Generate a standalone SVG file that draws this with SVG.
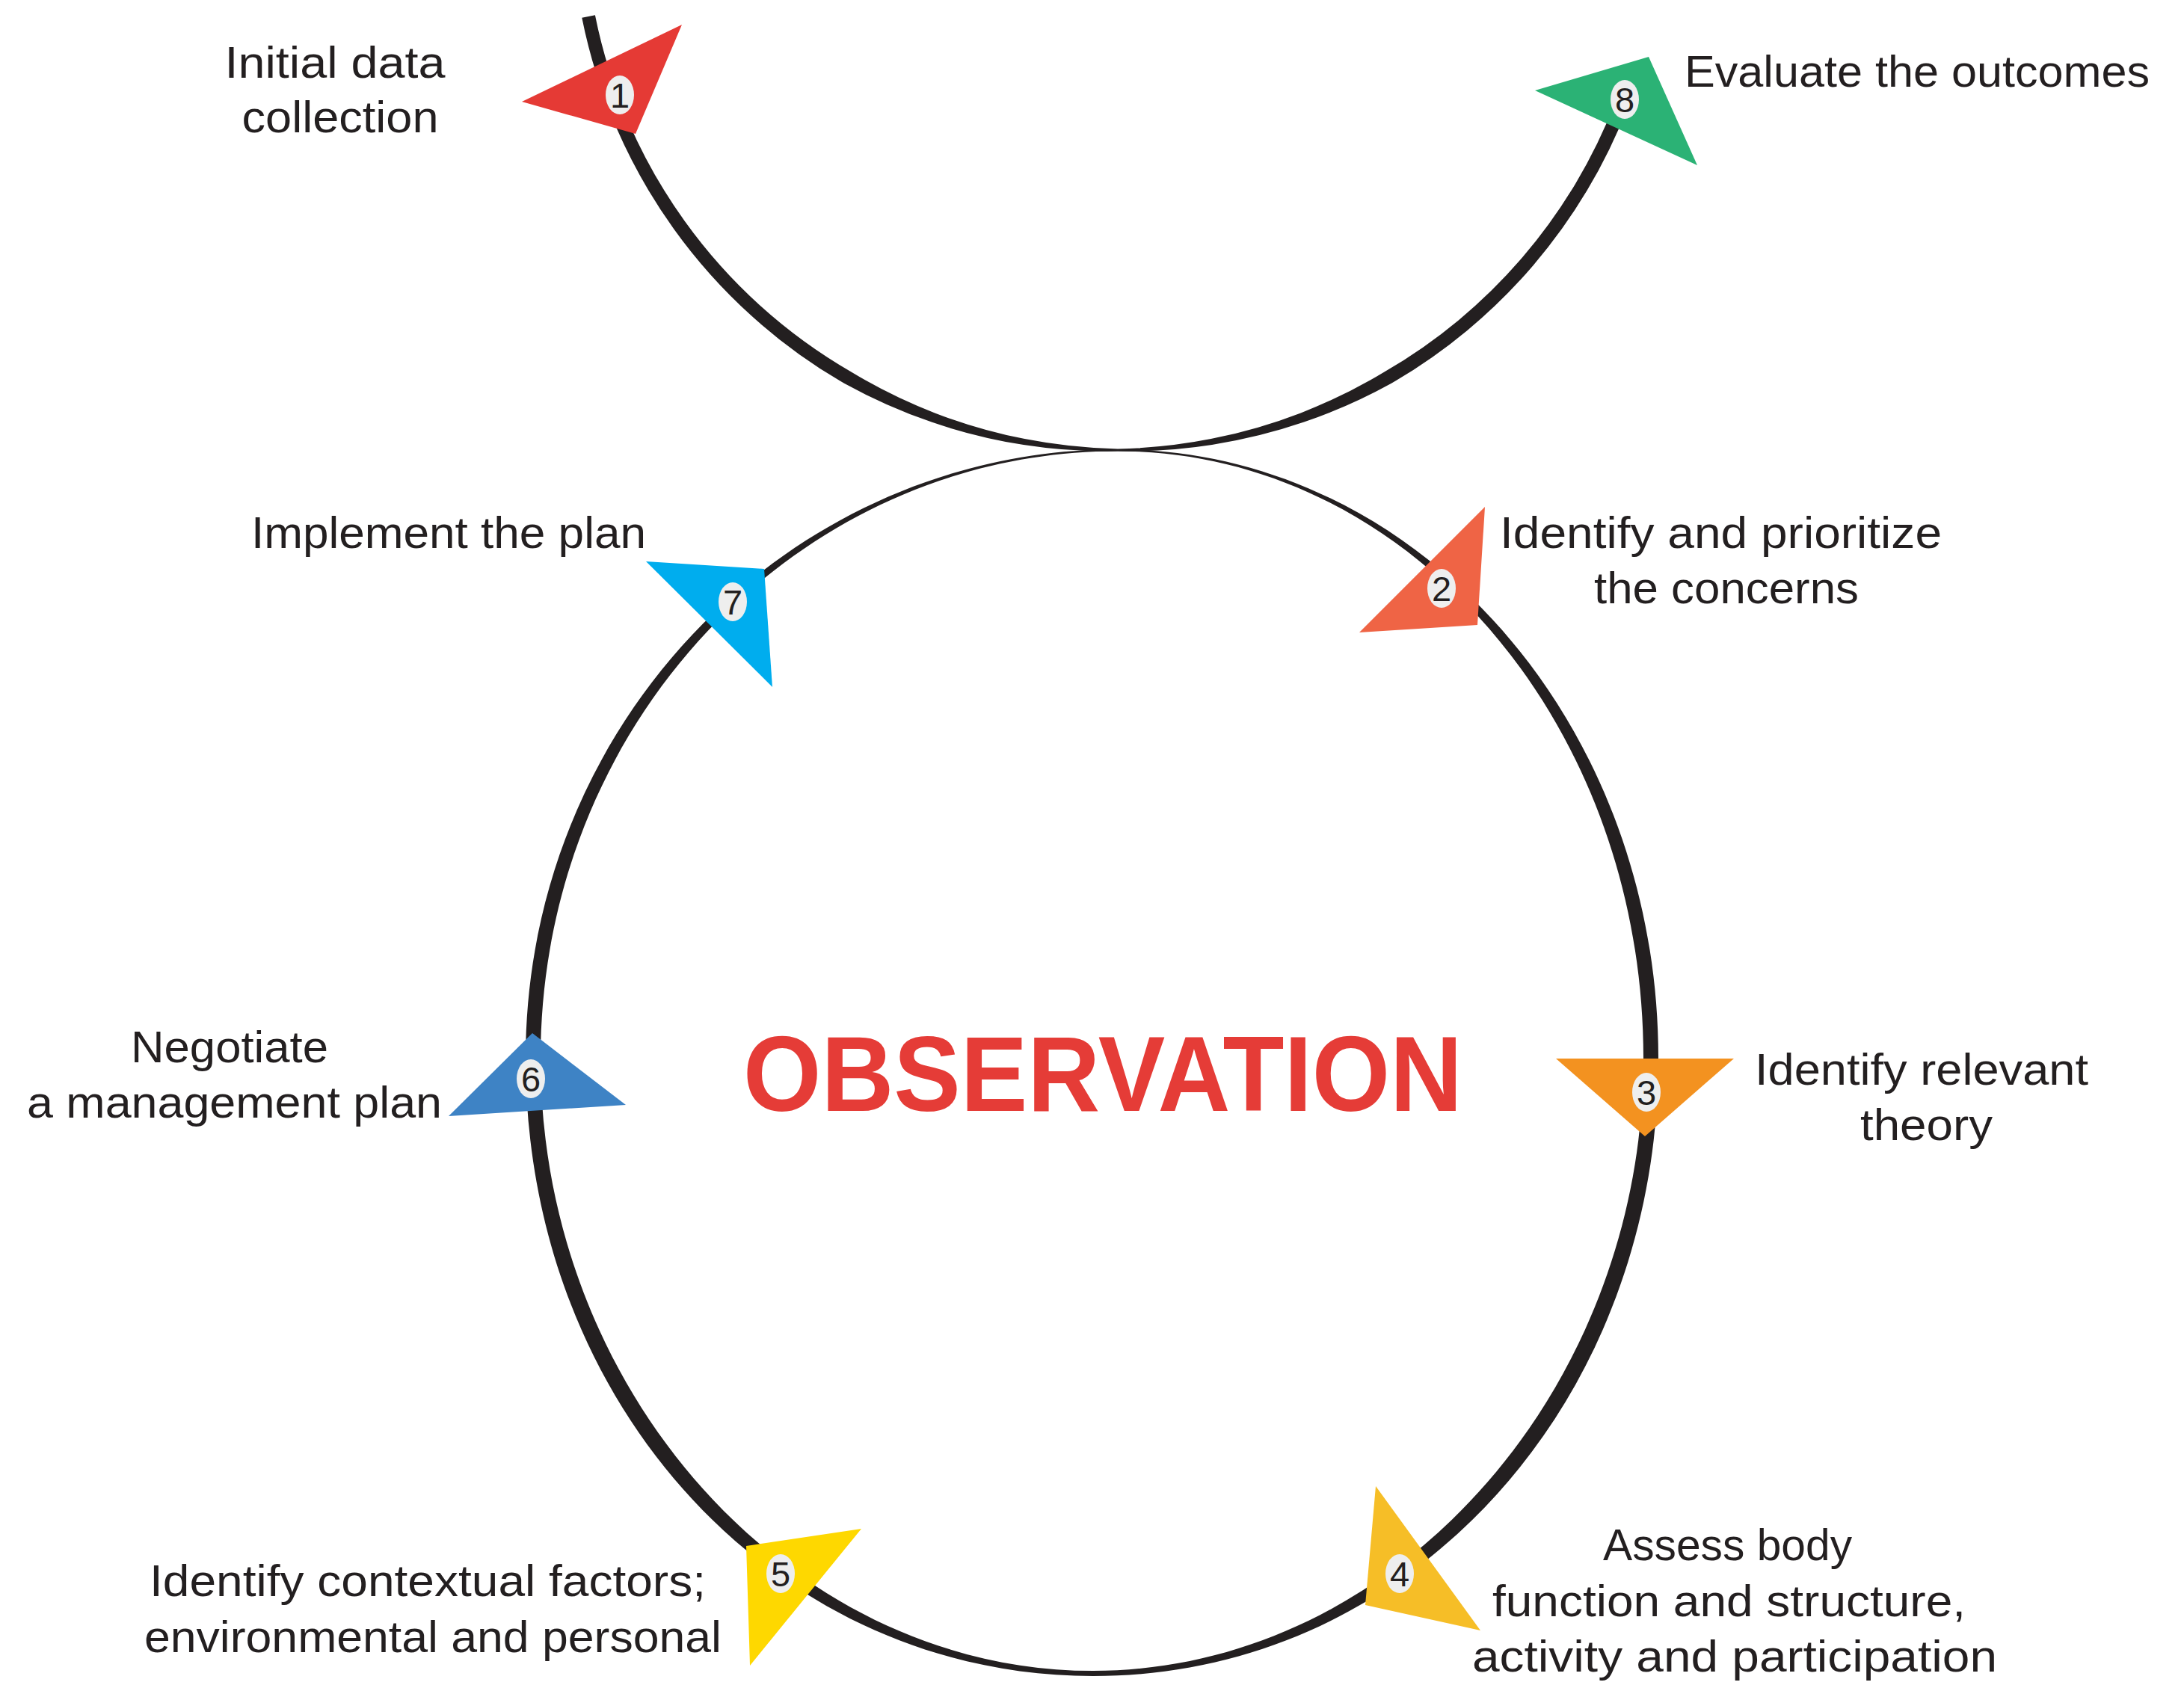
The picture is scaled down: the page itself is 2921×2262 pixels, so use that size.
<svg xmlns="http://www.w3.org/2000/svg" width="2921" height="2262" viewBox="0 0 2921 2262">
  <style>
    .line { fill: #231F20; fill-rule: evenodd; }
    .lbl { font-family: "Liberation Sans", Arial, sans-serif; font-size: 60px; fill: #231F20; }
    .num { font-family: "Liberation Sans", Arial, sans-serif; font-size: 47px; fill: #231F20; text-anchor: middle; }
    .badge { fill: #EEEEEE; }
    .title { font-family: "Liberation Sans", Arial, sans-serif; font-weight: bold; font-size: 143px; fill: #E53C37; text-anchor: middle; }
  </style>
  <rect x="0" y="0" width="2921" height="2262" fill="#FFFFFF"/>

  <g id="connectors">
    <path class="line" d="M 778.3,23.8 A 731 731 0 0 0 1129.5,513 A 729 729 0 0 0 1245.9,564.6 A 726 726 0 0 0 1369,595 A 723.5 723.5 0 0 0 1495,603.5 A 723.5 723.5 0 0 0 1621,595 A 726 726 0 0 0 1744.1,564.6 A 729 729 0 0 0 1860.5,513 A 731 731 0 0 0 2177,143.2 L 2160.2,136.7 A 713 713 0 0 1 1851.5,497.5 A 715 715 0 0 1 1739.7,552.4 A 718 718 0 0 1 1619.6,587.1 A 720.5 720.5 0 0 1 1495,600.5 A 720.5 720.5 0 0 1 1370.4,587.1 A 718 718 0 0 1 1250.3,552.4 A 715 715 0 0 1 1138.5,497.5 A 713 713 0 0 1 795.9,20.2 Z"/>
    <path class="line" d="M 1495,601 C 1894.3,601 2218,965.9 2218,1416 C 2218,1878.6 1885.4,2242 1462,2242 C 1037,2242 703,1878.6 703,1416 C 703,965.9 1057.6,601 1495,601 Z
      M 1495,603.5 C 1883.3,603.5 2198,967.3 2198,1416 C 2198,1862.4 1863.1,2235 1462,2235 C 1059.2,2235 723,1862.4 723,1416 C 723,967.3 1068.6,603.5 1495,603.5 Z"/>
  </g>

  <g id="center-label">
    <text class="title" x="1475" y="1486" textLength="962" lengthAdjust="spacingAndGlyphs">OBSERVATION</text>
  </g>

  <g id="node-1">
    <polygon points="698,136 912,33 850,179" fill="#E53A35"/>
    <ellipse class="badge" cx="829" cy="127" rx="19" ry="26"/>
    <text class="num" x="829" y="144">1</text>
    <text class="lbl" x="448" y="104" text-anchor="middle" textLength="295" lengthAdjust="spacingAndGlyphs">Initial data</text>
    <text class="lbl" x="455" y="177" text-anchor="middle" textLength="263" lengthAdjust="spacingAndGlyphs">collection</text>
  </g>

  <g id="node-2">
    <polygon points="1986,678 1818,846 1976,836" fill="#EF6445"/>
    <ellipse class="badge" cx="1928" cy="787" rx="19" ry="26"/>
    <text class="num" x="1928" y="804">2</text>
    <text class="lbl" x="2006" y="733" textLength="591" lengthAdjust="spacingAndGlyphs">Identify and prioritize</text>
    <text class="lbl" x="2132" y="807" textLength="354" lengthAdjust="spacingAndGlyphs">the concerns</text>
  </g>

  <g id="node-3">
    <polygon points="2081,1416 2319,1416 2200,1520" fill="#F39220"/>
    <ellipse class="badge" cx="2202" cy="1461" rx="19" ry="26"/>
    <text class="num" x="2202" y="1478">3</text>
    <text class="lbl" x="2347" y="1451" textLength="446" lengthAdjust="spacingAndGlyphs">Identify relevant</text>
    <text class="lbl" x="2488" y="1525" textLength="177" lengthAdjust="spacingAndGlyphs">theory</text>
  </g>

  <g id="node-4">
    <polygon points="1840,1988 1826,2147 1980,2181" fill="#F6BE27"/>
    <ellipse class="badge" cx="1872" cy="2105" rx="19" ry="26"/>
    <text class="num" x="1872" y="2122">4</text>
    <text class="lbl" x="2144" y="2087" textLength="333" lengthAdjust="spacingAndGlyphs">Assess body</text>
    <text class="lbl" x="1996" y="2162" textLength="633" lengthAdjust="spacingAndGlyphs">function and structure,</text>
    <text class="lbl" x="1969" y="2236" textLength="702" lengthAdjust="spacingAndGlyphs">activity and participation</text>
  </g>

  <g id="node-5">
    <polygon points="998,2068 1152,2045 1003,2228" fill="#FED800"/>
    <ellipse class="badge" cx="1044" cy="2105" rx="19" ry="26"/>
    <text class="num" x="1044" y="2122">5</text>
    <text class="lbl" x="200" y="2135" textLength="744" lengthAdjust="spacingAndGlyphs">Identify contextual factors;</text>
    <text class="lbl" x="193" y="2210" textLength="772" lengthAdjust="spacingAndGlyphs">environmental and personal</text>
  </g>

  <g id="node-6">
    <polygon points="712,1382 600,1493 837,1478" fill="#3E83C5"/>
    <ellipse class="badge" cx="710" cy="1443" rx="19" ry="26"/>
    <text class="num" x="710" y="1460">6</text>
    <text class="lbl" x="175" y="1421" textLength="264" lengthAdjust="spacingAndGlyphs">Negotiate</text>
    <text class="lbl" x="36" y="1495" textLength="555" lengthAdjust="spacingAndGlyphs">a management plan</text>
  </g>

  <g id="node-7">
    <polygon points="864,751 1022,761 1033,919" fill="#00ADEE"/>
    <ellipse class="badge" cx="980" cy="805" rx="19" ry="26"/>
    <text class="num" x="980" y="822">7</text>
    <text class="lbl" x="336" y="733" textLength="528" lengthAdjust="spacingAndGlyphs">Implement the plan</text>
  </g>

  <g id="node-8">
    <polygon points="2053,121 2205,76 2270,221" fill="#2BB275"/>
    <ellipse class="badge" cx="2173" cy="133" rx="19" ry="26"/>
    <text class="num" x="2173" y="150">8</text>
    <text class="lbl" x="2253" y="116" textLength="622" lengthAdjust="spacingAndGlyphs">Evaluate the outcomes</text>
  </g>
</svg>
